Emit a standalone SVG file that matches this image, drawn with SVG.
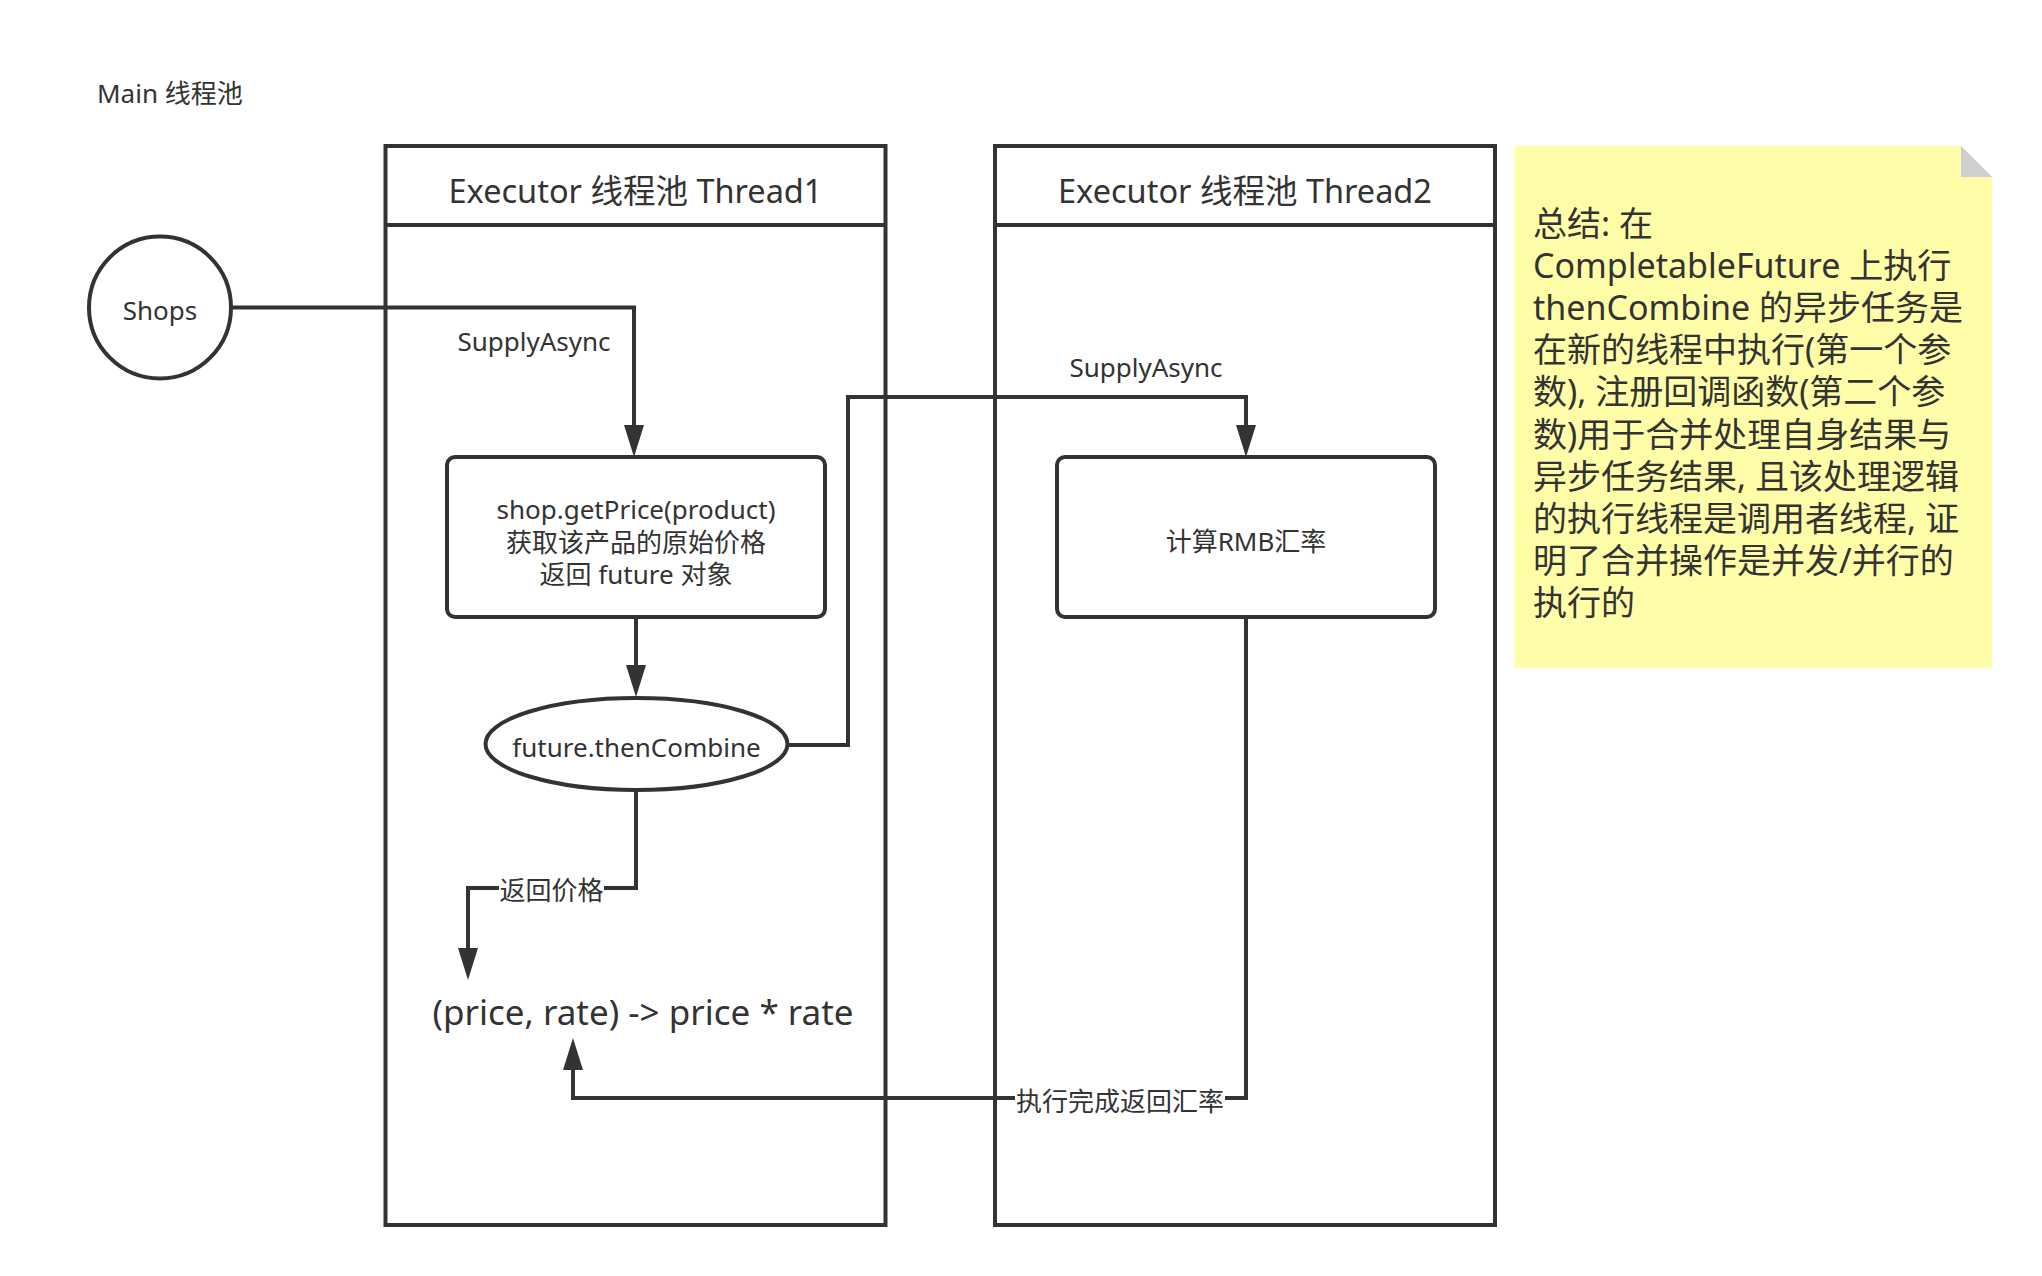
<svg xmlns="http://www.w3.org/2000/svg" width="2042" height="1276" viewBox="0 0 2042 1276">
<defs>
<marker id="arr" markerWidth="32" markerHeight="20" refX="0" refY="10" orient="auto" markerUnits="userSpaceOnUse">
<path d="M0,0 L32,10 L0,20 Z" fill="#333333"/>
</marker>
<style>
text{font-family:"Noto Sans","Noto Sans CJK SC",sans-serif;fill:#333333;dominant-baseline:central}
.c{text-anchor:middle}
.s26{font-size:26px}
.ln{fill:none;stroke:#333333;stroke-width:4}
.edge{fill:none;stroke:#333333;stroke-width:4}
.lbl{fill:#ffffff}
</style>
</defs>
<rect width="2042" height="1276" fill="#ffffff"/>

<g id="main-label"><text x="97" y="93" class="s26">Main 线程池</text></g>

<g id="pool1">
<rect x="385.5" y="146" width="500" height="1079" class="ln"/>
<line x1="385.5" y1="225" x2="885.5" y2="225" class="ln"/>
<text x="635.5" y="190" class="c" style="font-size:32.5px">Executor 线程池 Thread1</text>
</g>
<g id="pool2">
<rect x="995" y="146" width="500" height="1079" class="ln"/>
<line x1="995" y1="225" x2="1495" y2="225" class="ln"/>
<text x="1245" y="190" class="c" style="font-size:32.5px">Executor 线程池 Thread2</text>
</g>

<g id="connectors">
<path d="M231,307.5 H634 V425" class="edge" marker-end="url(#arr)"/>
<text x="534" y="341" class="c s26">SupplyAsync</text>
<path d="M636,617 V665" class="edge" marker-end="url(#arr)"/>
<path d="M787.5,745 H848 V397 H1246 V425" class="edge" marker-end="url(#arr)"/>
<text x="1146" y="367" class="c s26">SupplyAsync</text>
<path d="M636,790 V888 H468 V948" class="edge" marker-end="url(#arr)"/>
<rect x="499" y="873" width="105" height="30" class="lbl"/>
<text x="551.5" y="890" class="c s26">返回价格</text>
<path d="M1246,617 V1098 H573 V1070" class="edge" marker-end="url(#arr)"/>
<rect x="1015" y="1084" width="210" height="30" class="lbl"/>
<text x="1120" y="1101" class="c s26">执行完成返回汇率</text>
</g>

<g id="shops">
<circle cx="160" cy="307.5" r="71" class="ln"/>
<text x="160" y="310" class="c s26">Shops</text>
</g>

<g id="getprice">
<rect x="447" y="457" width="378" height="160" rx="8" class="ln" fill="#ffffff"/>
<text x="636" y="509" class="c s26">shop.getPrice(product)</text>
<text x="636" y="542" class="c s26">获取该产品的原始价格</text>
<text x="636" y="574" class="c s26">返回 future 对象</text>
</g>

<g id="thencombine">
<ellipse cx="636.5" cy="744" rx="151" ry="46" class="ln"/>
<text x="636.5" y="747" class="c s26">future.thenCombine</text>
</g>

<g id="rmb">
<rect x="1057" y="457" width="378" height="160" rx="8" class="ln"/>
<text x="1246" y="541" class="c s26">计算RMB汇率</text>
</g>

<g id="combine-fn">
<text x="643" y="1011" class="c" style="font-size:35px">(price, rate) -&gt; price * rate</text>
</g>

<g id="note">
<path d="M1514.5,146 H1961 L1992,177 V668 H1514.5 Z" fill="#fffda8"/>
<path d="M1961,146 V177 H1992 Z" fill="#cfcfcf"/>
<g style="font-size:34px">
<text x="1533" y="223">总结: 在</text>
<text x="1533" y="265">CompletableFuture 上执行</text>
<text x="1533" y="307">thenCombine 的异步任务是</text>
<text x="1533" y="349">在新的线程中执行(第一个参</text>
<text x="1533" y="391">数), 注册回调函数(第二个参</text>
<text x="1533" y="433.5">数)用于合并处理自身结果与</text>
<text x="1533" y="475.5">异步任务结果, 且该处理逻辑</text>
<text x="1533" y="517.5">的执行线程是调用者线程, 证</text>
<text x="1533" y="559.5">明了合并操作是并发/并行的</text>
<text x="1533" y="601.5">执行的</text>
</g>
</g>
</svg>
